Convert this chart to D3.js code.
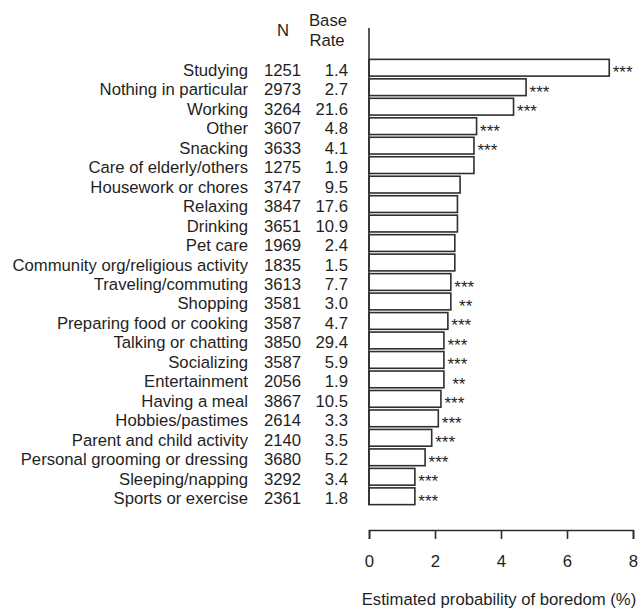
<!DOCTYPE html>
<html>
<head>
<meta charset="utf-8">
<script src="https://cdn.jsdelivr.net/npm/d3@7"></script>
<style>
  body { margin: 0; background: #fff; }
  svg text { font-family: "Liberation Sans", Arial, sans-serif; fill: #1f1f1f; }
</style>
</head>
<body>
<script>
// activity rows, top to bottom
const activities = ["Studying", "Nothing in particular", "Working", "Other", "Snacking",
  "Care of elderly/others", "Housework or chores", "Relaxing", "Drinking", "Pet care",
  "Community org/religious activity", "Traveling/commuting", "Shopping",
  "Preparing food or cooking", "Talking or chatting", "Socializing", "Entertainment",
  "Having a meal", "Hobbies/pastimes", "Parent and child activity",
  "Personal grooming or dressing", "Sleeping/napping", "Sports or exercise"];
const nValues = [1251, 2973, 3264, 3607, 3633, 1275, 3747, 3847, 3651, 1969, 1835, 3613,
  3581, 3587, 3850, 3587, 2056, 3867, 2614, 2140, 3680, 3292, 2361];
const baseRates = ["1.4", "2.7", "21.6", "4.8", "4.1", "1.9", "9.5", "17.6", "10.9", "2.4",
  "1.5", "7.7", "3.0", "4.7", "29.4", "5.9", "1.9", "10.5", "3.3", "3.5", "5.2", "3.4", "1.8"];
// estimated probability of boredom (%)
const probs = [7.28, 4.76, 4.38, 3.26, 3.18, 3.18, 2.76, 2.68, 2.68, 2.60, 2.60, 2.48,
  2.48, 2.39, 2.27, 2.27, 2.27, 2.18, 2.10, 1.90, 1.70, 1.39, 1.39];
const sig = ["***", "***", "***", "***", "***", "", "", "", "", "", "", "***",
  " **", "***", "***", "***", " **", "***", "***", "***", "***", "***", "***"];
const xTicks = [0, 2, 4, 6, 8];

const width = 641, height = 609;
const fs = "16.7px";

const svg = d3.select("body").append("svg")
    .attr("width", width)
    .attr("height", height);

const x = d3.scaleLinear().domain([0, 8]).range([369, 633]);
const y = d3.scaleBand().domain(activities).range([58, 506])
    .paddingInner(0.14).paddingOuter(0.07);

const rows = activities.map((a, i) => ({name: a, n: nValues[i], rate: baseRates[i], p: probs[i], s: sig[i]}));

// column headers
svg.append("text").attr("x", 283).attr("y", 36)
    .attr("text-anchor", "middle").style("font-size", fs).text("N");
svg.append("text").attr("x", 328).attr("y", 26)
    .attr("text-anchor", "middle").style("font-size", fs).text("Base");
svg.append("text").attr("x", 327).attr("y", 45.5)
    .attr("text-anchor", "middle").style("font-size", fs).text("Rate");

// bars
svg.selectAll("rect.bar")
    .data(rows)
  .enter().append("rect")
    .attr("class", "bar")
    .attr("x", x(0))
    .attr("y", d => y(d.name))
    .attr("width", d => x(d.p) - x(0))
    .attr("height", y.bandwidth())
    .attr("fill", "#fff")
    .attr("stroke", "#2e2e2e")
    .attr("stroke-width", 1.6);

// vertical axis line
svg.append("line")
    .attr("x1", x(0)).attr("x2", x(0))
    .attr("y1", 28).attr("y2", 505)
    .attr("stroke", "#2e2e2e").attr("stroke-width", 1.6);

const mid = d => y(d.name) + y.bandwidth() / 2;

// labels, N and base rate columns
svg.selectAll("text.label").data(rows).enter().append("text")
    .attr("class", "label").attr("x", 248).attr("y", d => mid(d) + 8)
    .attr("text-anchor", "end").style("font-size", fs).text(d => d.name);
svg.selectAll("text.n").data(rows).enter().append("text")
    .attr("class", "n").attr("x", 301).attr("y", d => mid(d) + 8)
    .attr("text-anchor", "end").style("font-size", fs).text(d => d.n);
svg.selectAll("text.rate").data(rows).enter().append("text")
    .attr("class", "rate").attr("x", 348).attr("y", d => mid(d) + 8)
    .attr("text-anchor", "end").style("font-size", fs).text(d => d.rate);

// significance stars
svg.selectAll("text.sig").data(rows).enter().append("text")
    .attr("class", "sig").attr("x", d => x(d.p) + 3.5).attr("y", d => mid(d) + 10.5)
    .style("font-size", "17px").style("white-space", "pre").text(d => d.s);

// x axis
const xAxis = d3.axisBottom(x).tickValues(xTicks).tickSizeOuter(0).tickSize(9).tickPadding(16);
const gx = svg.append("g").attr("transform", "translate(0,530)").call(xAxis);
gx.select(".domain").attr("stroke", "#2e2e2e").attr("stroke-width", 1.6);
gx.selectAll(".tick line").attr("stroke", "#2e2e2e").attr("stroke-width", 1.6);
gx.selectAll(".tick text").style("font-size", fs).attr("fill", "#1f1f1f")
    .style("font-family", "'Liberation Sans', Arial, sans-serif");

svg.append("text").attr("x", 499).attr("y", 605)
    .attr("text-anchor", "middle").style("font-size", fs)
    .text("Estimated probability of boredom (%)");
</script>
</body>
</html>
